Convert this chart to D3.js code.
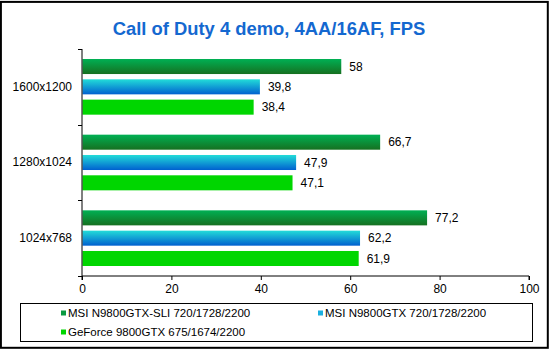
<!DOCTYPE html>
<html><head><meta charset="utf-8">
<script src="https://cdn.jsdelivr.net/npm/d3@7"></script>
<style>body{margin:0;background:#fff;}svg{display:block;font-family:Arial,"Liberation Sans",sans-serif;}</style>
</head><body><svg id="c" width="550" height="350"></svg>
<script>
const title = "Call of Duty 4 demo, 4AA/16AF, FPS";
const categories = ["1600x1200", "1280x1024", "1024x768"];
const seriesNames = ["MSI N9800GTX-SLI 720/1728/2200", "MSI N9800GTX 720/1728/2200", "GeForce 9800GTX 675/1674/2200"];
const sliValues = [58, 66.7, 77.2];
const gtxValues = [39.8, 47.9, 62.2];
const geforceValues = [38.4, 47.1, 61.9];
const xTicks = [0, 20, 40, 60, 80, 100];

(function(){
const series = [
  {name: seriesNames[0], values: sliValues, fill: "url(#gSli)", mark: "#0a9a40"},
  {name: seriesNames[1], values: gtxValues, fill: "url(#gGtx)", mark: "#1ab0e0"},
  {name: seriesNames[2], values: geforceValues, fill: "#00d600", mark: "#00d600"}
];

const svg = d3.select("#c");
const defs = svg.append("defs");
function grad(id, c1, c2) {
  const g = defs.append("linearGradient").attr("id", id).attr("x1",0).attr("y1",0).attr("x2",0).attr("y2",1);
  g.append("stop").attr("offset","0%").attr("stop-color",c1);
  g.append("stop").attr("offset","100%").attr("stop-color",c2);
}
grad("gSli", "#00b054", "#167020");
grad("gGtx", "#22dcd8", "#0060d0");

// outer border
svg.append("rect").attr("x",0.9).attr("y",1.9).attr("width",546.9).attr("height",345.9)
  .attr("fill","none").attr("stroke","#000").attr("stroke-width",2);

svg.append("text").attr("x",269).attr("y",35).attr("text-anchor","middle")
  .attr("font-size","18.4px").attr("font-weight","bold").attr("fill","#1468d0").text(title);

const pL = 82, pR = 529, pT = 49, pB = 276;
const x = d3.scaleLinear().domain([0,100]).range([pL,pR]);
const y = d3.scaleBand().domain(categories).range([pT,pB]).padding(0);
const yi = d3.scaleBand().domain(d3.range(series.length)).range([10, y.bandwidth()-10]).paddingInner(0.26).paddingOuter(0);

const g = svg.append("g");
categories.forEach((cat, ci) => {
  series.forEach((s, si) => {
    const by = y(cat) + yi(si);
    g.append("rect").attr("x", x(0)+0.5).attr("y", by)
      .attr("width", x(s.values[ci]) - x(0) - 0.5).attr("height", yi.bandwidth())
      .attr("fill", s.fill);
    g.append("text").attr("x", x(s.values[ci]) + 8).attr("y", by + yi.bandwidth()/2)
      .attr("dy","0.35em").attr("font-size","12px").attr("fill","#000")
      .text(String(s.values[ci]).replace(".", ","));
  });
});

// x axis
const xa = svg.append("g").attr("transform",`translate(0,${pB})`)
  .call(d3.axisBottom(x).tickValues(xTicks).tickSize(4).tickPadding(4).tickFormat(d3.format("d")));
xa.select(".domain").attr("stroke","#000").attr("d", `M${pL},4V0H${pR}V4`);
xa.selectAll("text").attr("font-size","12px").attr("fill","#000").attr("font-family","Arial, 'Liberation Sans', sans-serif");

// y axis
const boundaries = [pT].concat(categories.map(c => y(c) + y.bandwidth()));
const ya = svg.append("g").attr("transform",`translate(${pL},0)`)
  .call(d3.axisLeft(y).tickSize(0).tickPadding(10));
ya.select(".domain").attr("stroke","#000").attr("d", `M0,${pT}V${pB}`);
ya.selectAll("text").attr("font-size","12px").attr("fill","#000").attr("font-family","Arial, 'Liberation Sans', sans-serif");
ya.selectAll(".bnd").data(boundaries).enter().append("line").attr("class","bnd")
  .attr("x1",-4).attr("x2",0).attr("y1",d=>Math.round(d)+0.5).attr("y2",d=>Math.round(d)+0.5).attr("stroke","#000");

// legend
svg.append("rect").attr("x",20.5).attr("y",303.5).attr("width",512).attr("height",38)
  .attr("fill","none").attr("stroke","#000").attr("stroke-width",1);
const legPos = [[61,313],[318,313],[61,332]];
series.forEach((s, i) => {
  const [lx, ly] = legPos[i];
  svg.append("rect").attr("x",lx).attr("y",ly-2.5).attr("width",5).attr("height",5).attr("fill",s.mark);
  svg.append("text").attr("x",lx+7).attr("y",ly).attr("dy","0.35em").attr("font-size","11.5px")
    .attr("fill","#000").text(s.name);
});
})();
</script></body></html>
